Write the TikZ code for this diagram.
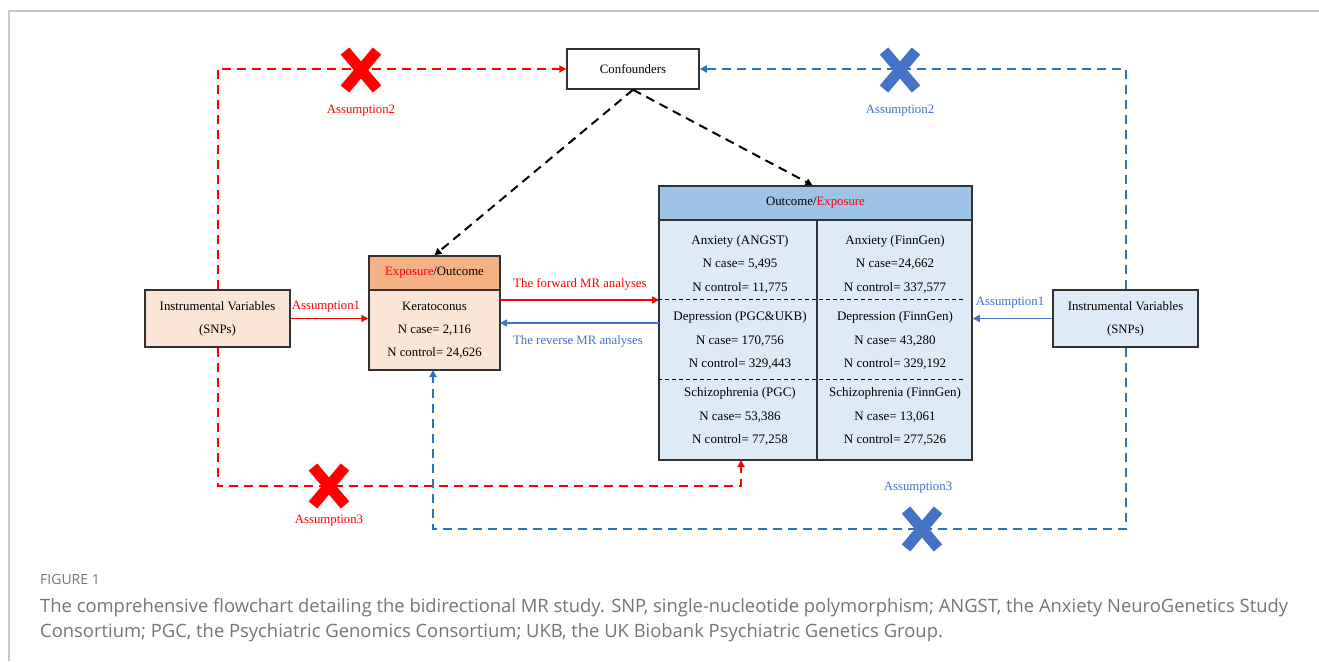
\documentclass[tikz,border=0pt]{standalone}
\usepackage{fontspec}
\setmainfont{Liberation Serif}
\newfontfamily\capfont{Open Sans}
\usetikzlibrary{arrows.meta,calc}
\definecolor{myred}{HTML}{FF0000}
\definecolor{myblue}{HTML}{4472C4}
\definecolor{dblue}{HTML}{2E75B6}
\definecolor{peach}{HTML}{FBE5D6}
\definecolor{orangeh}{HTML}{F4B183}
\definecolor{lblue}{HTML}{DEEBF7}
\definecolor{hblue}{HTML}{9DC3E6}
\definecolor{edge}{HTML}{333333}
\definecolor{capgray}{HTML}{757575}
\definecolor{framegray}{HTML}{C8C8C8}
\tikzset{
  box/.style={draw=edge, line width=1.5pt, rectangle, inner sep=0pt, align=center,
    font=\fontsize{12.8}{23}\selectfont},
  lbl/.style={inner sep=0pt, font=\fontsize{12.8}{14}\selectfont},
  cell/.style={inner sep=0pt, align=center, font=\fontsize{13}{23.5}\selectfont},
  tip/.style={-{Triangle[width=7pt,length=7pt]}},
  reddash/.style={draw=myred, line width=2pt, dash pattern=on 9pt off 6pt, tip},
  bluedash/.style={draw=dblue, line width=2pt, dash pattern=on 9pt off 6pt, tip},
  blackdash/.style={draw=black, line width=2pt, dash pattern=on 9pt off 6pt, tip},
  redsolid/.style={draw=myred, line width=1.6pt, tip},
  bluesolid/.style={draw=myblue, line width=1.6pt, tip},
  xbar/.style={line width=11pt, line cap=butt},
  divider/.style={draw=black, line width=1pt, dash pattern=on 4pt off 3pt},
  captext/.style={anchor=base west, inner sep=0pt, text=capgray, font=\capfont\fontsize{18.4}{25}\selectfont},
}
\newcommand{\bigcross}[3]{%
  \draw[xbar, #1] ($(#2,#3)+(-16,-19)$) -- ($(#2,#3)+(16,19)$);
  \draw[xbar, #1] ($(#2,#3)+(16,-19)$) -- ($(#2,#3)+(-16,19)$);}
\begin{document}
\begin{tikzpicture}[x=1pt,y=-1pt]
\useasboundingbox (0,0) rectangle (1319,661);
\fill[white] (0,0) rectangle (1319,661);
\draw[framegray, line width=1.2pt] (9,661) -- (9,11) -- (1319,11);

% nodes
\node[box, fill=white, minimum width=132pt, minimum height=40pt] (conf) at (633,69) {Confounders};
\node[box, fill=peach, minimum width=145pt, minimum height=57pt] (ivl) at (217.5,318.5) {Instrumental Variables\\(SNPs)};
\node[box, fill=lblue, minimum width=145pt, minimum height=57pt] (ivr) at (1125.5,318.5) {Instrumental Variables\\(SNPs)};
\node[box, fill=orangeh, minimum width=131pt, minimum height=34pt] (kh) at (434.5,273) {\textcolor{myred}{Exposure}/Outcome};
\node[box, fill=peach, minimum width=131pt, minimum height=80pt] (kb) at (434.5,330) {Keratoconus\\N case= 2,116\\N control= 24,626};
\node[box, fill=hblue, minimum width=313pt, minimum height=34pt] (rh) at (815.5,203) {Outcome/\textcolor{myred}{Exposure}};
\node[box, fill=lblue, minimum width=313pt, minimum height=240pt] (rb) at (815.5,340) {};
\draw[edge, line width=1.5pt] ($(rb.north)+(1.5,0)$) -- ($(rb.south)+(1.5,0)$);
\draw[divider] ($(rb.north west)+(0,80)$) -- ($(rb.north east)+(-10,80)$);
\draw[divider] ($(rb.north west)+(0,160)$) -- ($(rb.north east)+(-7,160)$);

\node[cell] (c11) at (740,264) {Anxiety (ANGST)\\N case= 5,495\\N control= 11,775};
\node[cell] (c12) at (895,264) {Anxiety (FinnGen)\\N case=24,662\\N control= 337,577};
\node[cell] (c21) at (740,340.5) {Depression (PGC\&UKB)\\N case= 170,756\\N control= 329,443};
\node[cell] (c22) at (895,340.5) {Depression (FinnGen)\\N case= 43,280\\N control= 329,192};
\node[cell] (c31) at (740,416.5) {Schizophrenia (PGC)\\N case= 53,386\\N control= 77,258};
\node[cell] (c32) at (895,416.5) {Schizophrenia (FinnGen)\\N case= 13,061\\N control= 277,526};

% coordinates
\coordinate (fwdA) at (500,300);
\coordinate (fwdB) at (659,300);
\coordinate (revA) at (659,323);
\coordinate (revB) at (500,323);
\coordinate (rbIn) at (741,460);
\coordinate (redC) at (741,486);
\coordinate (kbIn) at (433,370);
\coordinate (blueC) at (433,529);

% assumption 1
\draw[redsolid] (ivl.east) -- (kb.west |- ivl.east);
\node[lbl, text=myred] (a1l) at (326,307) {Assumption1};
\draw[bluesolid] (ivr.west) -- (rb.east |- ivr.west);
\node[lbl, text=myblue] (a1r) at (1010,303) {Assumption1};

% forward / reverse
\draw[redsolid] (fwdA) -- (fwdB);
\node[lbl, text=myred] (fwd) at (580,284) {The forward MR analyses};
\draw[bluesolid] (revA) -- (revB);
\node[lbl, text=myblue] (rev) at (578,341) {The reverse MR analyses};

% assumption 2
\draw[reddash] (ivl.north) |- (conf.west);
\draw[bluedash] (ivr.north) |- (conf.east);
% assumption 3
\draw[reddash] (ivl.south) |- (redC) -- (rbIn);
\draw[bluedash] (ivr.south) |- (blueC) -- (kbIn);

% confounders arrows
\draw[blackdash] (conf.south) -- (kh.north);
\draw[blackdash] (conf.south) -- ($(rh.north)+(-3,0)$);

% crosses
\bigcross{myred}{361}{70}
\bigcross{myblue}{900}{70}
\bigcross{myred}{329}{486}
\bigcross{myblue}{922}{529}
\node[lbl, text=myred] (a2l) at (361,111) {Assumption2};
\node[lbl, text=myblue] (a2r) at (900,111) {Assumption2};
\node[lbl, text=myred] (a3l) at (329,521) {Assumption3};
\node[lbl, text=myblue] (a3r) at (918,488) {Assumption3};

% caption
\node[anchor=base west, inner sep=0pt, text=capgray, font=\capfont\fontsize{14}{16}\selectfont] (fig) at (40,584) {FIGURE 1};
\node[captext] (cap1) at (40,612) {The comprehensive flowchart detailing the bidirectional MR study. SNP, single-nucleotide polymorphism; ANGST, the Anxiety NeuroGenetics Study};
\node[captext] (cap2) at (40,637) {Consortium; PGC, the Psychiatric Genomics Consortium; UKB, the UK Biobank Psychiatric Genetics Group.};
\end{tikzpicture}
\end{document}
